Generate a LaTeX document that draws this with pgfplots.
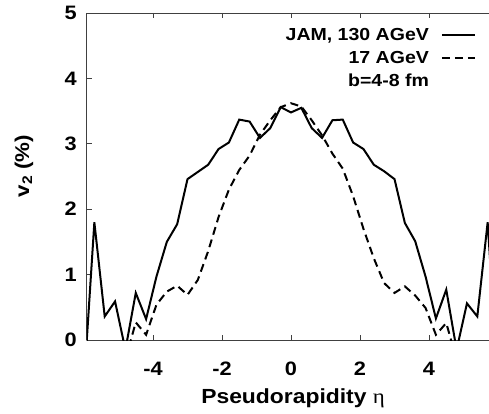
\documentclass[border=0pt]{standalone}
\usepackage{pgfplots}
\pgfplotsset{compat=1.18}
\usepackage{fontspec}
\setmainfont{Liberation Sans}[FakeStretch=1.12]
\newfontfamily\greekserif{Liberation Serif}[FakeStretch=1.12]
\pgfplotstableread{
x y
-6.0 -0.66
-5.7 1.80
-5.4 0.36
-5.1 0.59
-4.8 -0.15
-4.5 0.72
-4.2 0.32
-3.9 0.97
-3.6 1.50
-3.3 1.77
-3.0 2.46
-2.7 2.57
-2.4 2.68
-2.1 2.92
-1.8 3.02
-1.5 3.37
-1.2 3.34
-0.9 3.09
-0.6 3.24
-0.3 3.56
0.0 3.48
0.3 3.55
0.6 3.24
0.9 3.09
1.2 3.36
1.5 3.37
1.8 3.02
2.1 2.92
2.4 2.68
2.7 2.58
3.0 2.46
3.3 1.79
3.6 1.51
3.9 0.97
4.2 0.33
4.5 0.77
4.8 -0.15
5.1 0.56
5.4 0.36
5.7 1.80
6.0 -0.66
}\jamhigh
\pgfplotstableread{
x y
-4.8 -0.30
-4.5 0.27
-4.2 0.08
-3.9 0.54
-3.6 0.74
-3.3 0.83
-3.0 0.69
-2.7 0.92
-2.4 1.36
-2.1 1.88
-1.8 2.30
-1.5 2.60
-1.2 2.82
-0.9 3.14
-0.6 3.36
-0.3 3.56
0.0 3.62
0.3 3.57
0.6 3.36
0.9 3.13
1.2 2.85
1.5 2.62
1.8 2.20
2.1 1.70
2.4 1.25
2.7 0.87
3.0 0.72
3.3 0.82
3.6 0.68
3.9 0.49
4.2 0.08
4.5 0.26
4.8 -0.30
}\jamlow
\begin{document}
\begin{tikzpicture}
\begin{axis}[
  name=ax,
  scale only axis,
  width=402.3bp, height=327bp,
  xmin=-5.922, xmax=5.739, ymin=0, ymax=5,
  axis x line*=box, axis y line*=left,
  axis line style={black!75, line width=0.8bp},
  xtick={-4,-2,0,2,4}, xticklabels={-4,-2,0,2,4},
  ytick={0,1,2,3,4,5}, yticklabels={0,1,2,3,4,5},
  tick align=inside, major tick length=5bp,
  tick style={black!75, line width=0.8bp},
  tick label style={font=\fontsize{19.5}{22}\selectfont\bfseries},
  xticklabel style={anchor=base, yshift=-35bp},
  yticklabel style={xshift=-6.5bp},
  xlabel={Pseudorapidity {\mdseries\greekserif η}},
  xlabel style={font=\fontsize{20.5}{22}\selectfont\bfseries, at={(axis description cs:0.513,0)}, anchor=base, yshift=-63bp},
  ylabel={v\textsubscript{2} (\%)},
  ylabel style={font=\fontsize{20}{22}\selectfont\bfseries, at={(axis description cs:-0.156,0.532)}, anchor=center},
  legend style={draw=none, fill=none, font=\fontsize{17.5}{20}\selectfont\bfseries,
    at={(axis description cs:0.968,0.961)}, anchor=north east,
    row sep=5.5bp, column sep=10bp, inner sep=0pt},
  legend cell align=right,
  legend plot pos=right,
  legend image code/.code={\draw[#1] (0bp,0bp) -- (33bp,0bp);},
]
\addplot[black, line width=2bp] table {\jamhigh};
\addlegendentry{JAM, 130 AGeV}
\addplot[black, line width=2bp, dash pattern=on 8bp off 5bp] table {\jamlow};
\addlegendentry{17 AGeV}
\addlegendimage{empty legend}
\addlegendentry{b=4-8 fm}
\end{axis}
\pgfresetboundingbox
\path[use as bounding box] ([xshift=-86.7bp, yshift=-73bp]ax.south west) rectangle ([yshift=13bp]ax.north east);
\end{tikzpicture}
\end{document}
